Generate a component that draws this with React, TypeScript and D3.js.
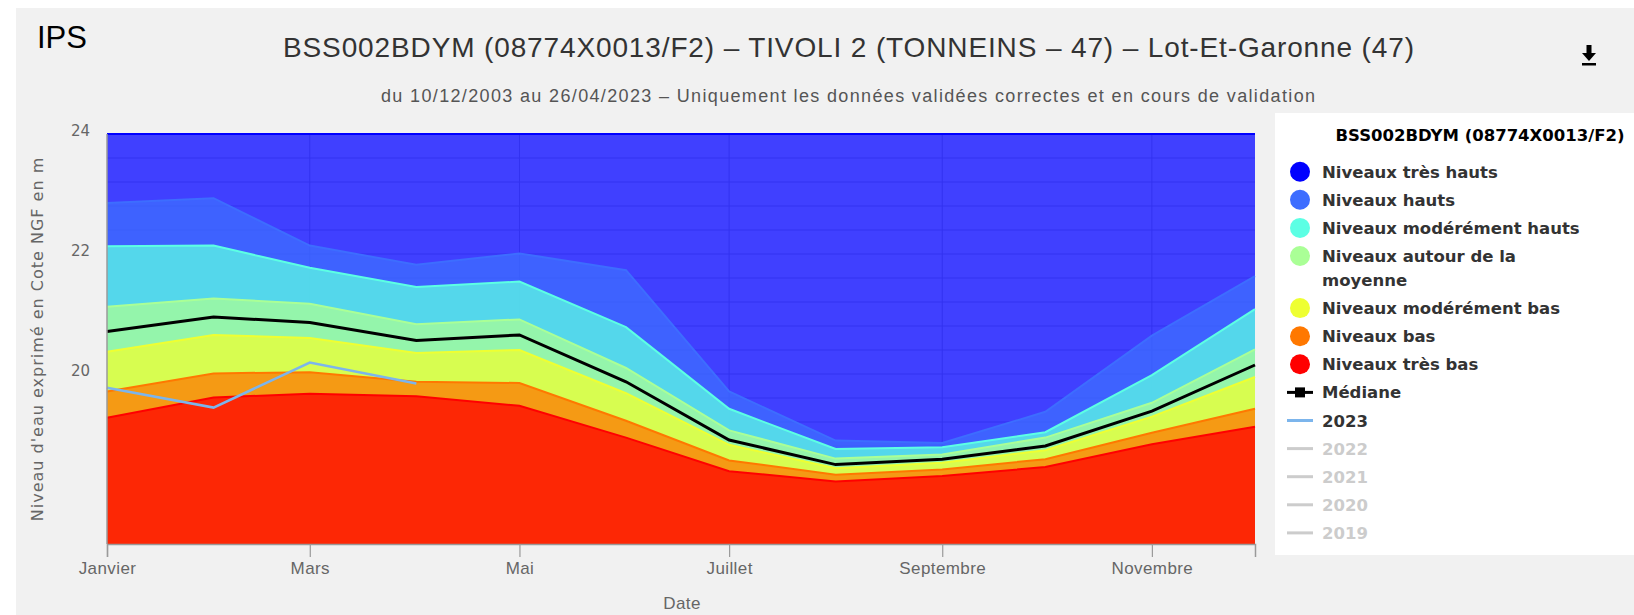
import React, { useEffect, useRef } from 'react';
import * as d3 from 'd3';

// mois (1er de chaque mois)
const months = [
  '2023-01-01', '2023-02-01', '2023-03-01', '2023-04-01', '2023-05-01', '2023-06-01',
  '2023-07-01', '2023-08-01', '2023-09-01', '2023-10-01', '2023-11-01', '2023-12-01',
];
const xTickMonths = ['2023-01-01', '2023-03-01', '2023-05-01', '2023-07-01', '2023-09-01', '2023-11-01'];
const xTickLabels = ['Janvier', 'Mars', 'Mai', 'Juillet', 'Septembre', 'Novembre'];
const yTickValues = [24, 22, 20];

// bornes hautes de chaque classe IPS
const niveauxTresHauts = [24, 24, 24, 24, 24, 24, 24, 24, 24, 24, 24, 24];
const niveauxHauts = [22.85, 22.93, 22.14, 21.82, 22.01, 21.73, 19.71, 18.89, 18.85, 19.37, 20.64, 21.63];
const niveauxModHauts = [22.13, 22.14, 21.77, 21.45, 21.54, 20.78, 19.42, 18.75, 18.78, 19.03, 19.98, 21.08];
const niveauxAutour = [21.12, 21.26, 21.17, 20.83, 20.91, 20.10, 19.06, 18.59, 18.66, 18.94, 19.52, 20.41];
const niveauxModBas = [20.37, 20.65, 20.60, 20.35, 20.40, 19.68, 18.82, 18.43, 18.52, 18.73, 19.29, 19.95];
const niveauxBas = [19.71, 20.01, 20.03, 19.87, 19.85, 19.22, 18.56, 18.32, 18.41, 18.58, 19.02, 19.42];
const niveauxTresBas = [19.27, 19.61, 19.67, 19.63, 19.47, 18.94, 18.38, 18.21, 18.30, 18.45, 18.83, 19.12];
const mediane = [20.71, 20.95, 20.86, 20.56, 20.65, 19.87, 18.90, 18.49, 18.58, 18.80, 19.38, 20.15];
const annee2023 = [19.77, 19.44, 20.19, 19.84];

const bandNames = [
  'Niveaux très hauts', 'Niveaux hauts', 'Niveaux modérément hauts', 'Niveaux autour de la moyenne',
  'Niveaux modérément bas', 'Niveaux bas', 'Niveaux très bas',
];
const bandColors = ['#0000ff', '#3d6dff', '#5cffe4', '#aaff96', '#eeff32', '#ff7800', '#ff0000'];
const bandValues = [niveauxTresHauts, niveauxHauts, niveauxModHauts, niveauxAutour, niveauxModBas, niveauxBas, niveauxTresBas];
const yearNames = ['2023', '2022', '2021', '2020', '2019'];

const W = 1634;
const H = 615;
const narrow = "'Liberation Sans Narrow', 'Liberation Sans', Arial, sans-serif";
const verdana = "'DejaVu Sans', Verdana, sans-serif";

const App = () => {
  const ref = useRef<SVGSVGElement>(null);

  useEffect(() => {
    const svg = d3.select(ref.current);
    svg.selectAll('*').remove();

    const plot = { left: 107, right: 1255, top: 134, bottom: 544 };
    const parse = d3.timeParse('%Y-%m-%d');
    const dates = months.map(m => parse(m) as Date);

    const x = d3.scaleTime()
      .domain([dates[0], dates[dates.length - 1]])
      .range([plot.left, plot.right]);
    const y = d3.scaleLinear()
      .domain([24 - (plot.bottom - plot.top) / 60, 24])
      .range([plot.bottom, plot.top]);

    svg.append('rect').attr('width', W).attr('height', H).attr('fill', '#fff');
    svg.append('rect').attr('x', 16).attr('y', 8).attr('width', W - 16).attr('height', H - 8).attr('fill', '#f1f1f1');

    svg.append('text').attr('x', 37).attr('y', 48).text('IPS')
      .attr('font-family', "'Liberation Sans', Arial, sans-serif").attr('font-size', 31).attr('fill', '#000');

    svg.append('text').attr('x', 283).attr('y', 57)
      .text('BSS002BDYM (08774X0013/F2) – TIVOLI 2 (TONNEINS – 47) – Lot-Et-Garonne (47)')
      .attr('font-family', narrow).attr('font-size', 28).attr('fill', '#333')
      .attr('textLength', 1131).attr('lengthAdjust', 'spacing');

    svg.append('text').attr('x', 381).attr('y', 102)
      .text('du 10/12/2003 au 26/04/2023 – Uniquement les données validées correctes et en cours de validation')
      .attr('font-family', narrow).attr('font-size', 18).attr('fill', '#555')
      .attr('textLength', 934).attr('lengthAdjust', 'spacing');

    // icône de téléchargement
    const icon = svg.append('g').attr('transform', 'translate(1589,55)').attr('fill', '#000');
    icon.append('rect').attr('x', -2.5).attr('y', -10).attr('width', 5).attr('height', 9);
    icon.append('path').attr('d', 'M-7,-2 L7,-2 L0,6 Z');
    icon.append('rect').attr('x', -7).attr('y', 8).attr('width', 14).attr('height', 2.5);

    // zone de tracé
    svg.append('rect').attr('x', plot.left).attr('y', plot.top)
      .attr('width', plot.right - plot.left).attr('height', plot.bottom - plot.top).attr('fill', '#fff');

    const gridValues = d3.range(0, 18).map(i => 24 - i * 0.4);
    svg.append('g').selectAll('line').data(gridValues).enter().append('line')
      .attr('x1', plot.left).attr('x2', plot.right)
      .attr('y1', d => y(d)).attr('y2', d => y(d))
      .attr('stroke', '#c4c4c4').attr('stroke-width', 1);
    svg.append('g').selectAll('line').data(xTickMonths.slice(1)).enter().append('line')
      .attr('x1', d => x(parse(d) as Date)).attr('x2', d => x(parse(d) as Date))
      .attr('y1', plot.top).attr('y2', plot.bottom)
      .attr('stroke', '#c4c4c4').attr('stroke-width', 1);

    const bands = svg.append('g');
    bandValues.forEach((vals, i) => {
      const pts = vals.map((v, j) => ({ date: dates[j], v }));
      const area = d3.area<{ date: Date; v: number }>()
        .x(d => x(d.date)).y0(plot.bottom).y1(d => y(d.v));
      const line = d3.line<{ date: Date; v: number }>()
        .x(d => x(d.date)).y(d => y(d.v));
      bands.append('path').datum(pts).attr('d', area)
        .attr('fill', bandColors[i]).attr('fill-opacity', 0.75);
      bands.append('path').datum(pts).attr('d', line)
        .attr('fill', 'none').attr('stroke', bandColors[i]).attr('stroke-width', 2);
    });

    const lineGen = d3.line<number>().x((_, j) => x(dates[j])).y(d => y(d));
    svg.append('path').datum(mediane).attr('d', lineGen)
      .attr('fill', 'none').attr('stroke', '#000').attr('stroke-width', 3);
    svg.append('path').datum(annee2023).attr('d', lineGen)
      .attr('fill', 'none').attr('stroke', '#7cb5ec').attr('stroke-width', 2.5);

    // axes
    const xAxis = svg.append('g').attr('transform', `translate(0,${plot.bottom})`)
      .call(d3.axisBottom(x)
        .tickValues(xTickMonths.map(m => parse(m) as Date))
        .tickSize(13).tickPadding(5)
        .tickFormat((_, i) => xTickLabels[i]));
    xAxis.select('.domain').attr('stroke', '#9a9a9a').attr('stroke-width', 1.5);
    xAxis.selectAll('.tick line').attr('stroke', '#9a9a9a').attr('stroke-width', 1.2);
    xAxis.selectAll('.tick text').attr('font-family', narrow).attr('font-size', 17)
      .attr('letter-spacing', 0.4).attr('fill', '#666');

    svg.append('line').attr('x1', plot.left).attr('x2', plot.left)
      .attr('y1', plot.top).attr('y2', plot.bottom).attr('stroke', '#9a9a9a').attr('stroke-width', 1.5);

    const yAxis = svg.append('g').attr('transform', `translate(${plot.left},0)`)
      .call(d3.axisLeft(y).tickValues(yTickValues).tickSize(0).tickPadding(17).tickFormat(d3.format('d')));
    yAxis.select('.domain').remove();
    yAxis.selectAll('.tick text').attr('font-family', verdana).attr('font-size', 15)
      .attr('fill', '#666').attr('dy', '0.12em');

    svg.append('text')
      .attr('transform', `translate(43,${(plot.top + plot.bottom) / 2}) rotate(-90)`)
      .attr('text-anchor', 'middle')
      .attr('font-family', verdana).attr('font-size', 16).attr('letter-spacing', 1).attr('fill', '#666')
      .text("Niveau d'eau exprimé en Cote NGF en m");

    svg.append('text').attr('x', 682).attr('y', 609).attr('text-anchor', 'middle')
      .attr('font-family', narrow).attr('font-size', 17).attr('letter-spacing', 0.4).attr('fill', '#666')
      .text('Date');

    // légende
    const lg = svg.append('g');
    lg.append('rect').attr('x', 1275).attr('y', 113).attr('width', W - 1275).attr('height', 442).attr('fill', '#fff');
    lg.append('text').attr('x', 1480).attr('y', 141).attr('text-anchor', 'middle')
      .attr('font-family', verdana).attr('font-weight', 'bold').attr('font-size', 16.5).attr('fill', '#000')
      .text('BSS002BDYM (08774X0013/F2)');

    const itemY = (i: number) => 171.7 + i * 28.1 + (i >= 4 ? 24 : 0);
    const labelAttrs = (t: any, color: string) => t
      .attr('font-family', verdana).attr('font-weight', 'bold').attr('font-size', 16.5).attr('fill', color);

    bandNames.forEach((name, i) => {
      const cy = itemY(i);
      lg.append('circle').attr('cx', 1300).attr('cy', cy).attr('r', 10).attr('fill', bandColors[i]);
      if (i === 3) {
        labelAttrs(lg.append('text').attr('x', 1322).attr('y', cy + 6).text('Niveaux autour de la'), '#333');
        labelAttrs(lg.append('text').attr('x', 1322).attr('y', cy + 30).text('moyenne'), '#333');
      } else {
        labelAttrs(lg.append('text').attr('x', 1322).attr('y', cy + 6).text(name), '#333');
      }
    });

    const my = itemY(7);
    lg.append('line').attr('x1', 1287).attr('x2', 1313).attr('y1', my).attr('y2', my)
      .attr('stroke', '#000').attr('stroke-width', 3);
    lg.append('rect').attr('x', 1295).attr('y', my - 5).attr('width', 10).attr('height', 10).attr('fill', '#000');
    labelAttrs(lg.append('text').attr('x', 1322).attr('y', my + 6).text('Médiane'), '#333');

    yearNames.forEach((yr, k) => {
      const cy = itemY(8 + k);
      const col = k === 0 ? '#7cb5ec' : '#cccccc';
      lg.append('line').attr('x1', 1287).attr('x2', 1313).attr('y1', cy).attr('y2', cy)
        .attr('stroke', col).attr('stroke-width', 3);
      labelAttrs(lg.append('text').attr('x', 1322).attr('y', cy + 6).text(yr), k === 0 ? '#333' : '#cccccc');
    });
  }, []);

  return (
    <svg ref={ref} width={W} height={H} style={{ position: 'absolute', left: 0, top: 0 }} />
  );
};

export default App;
